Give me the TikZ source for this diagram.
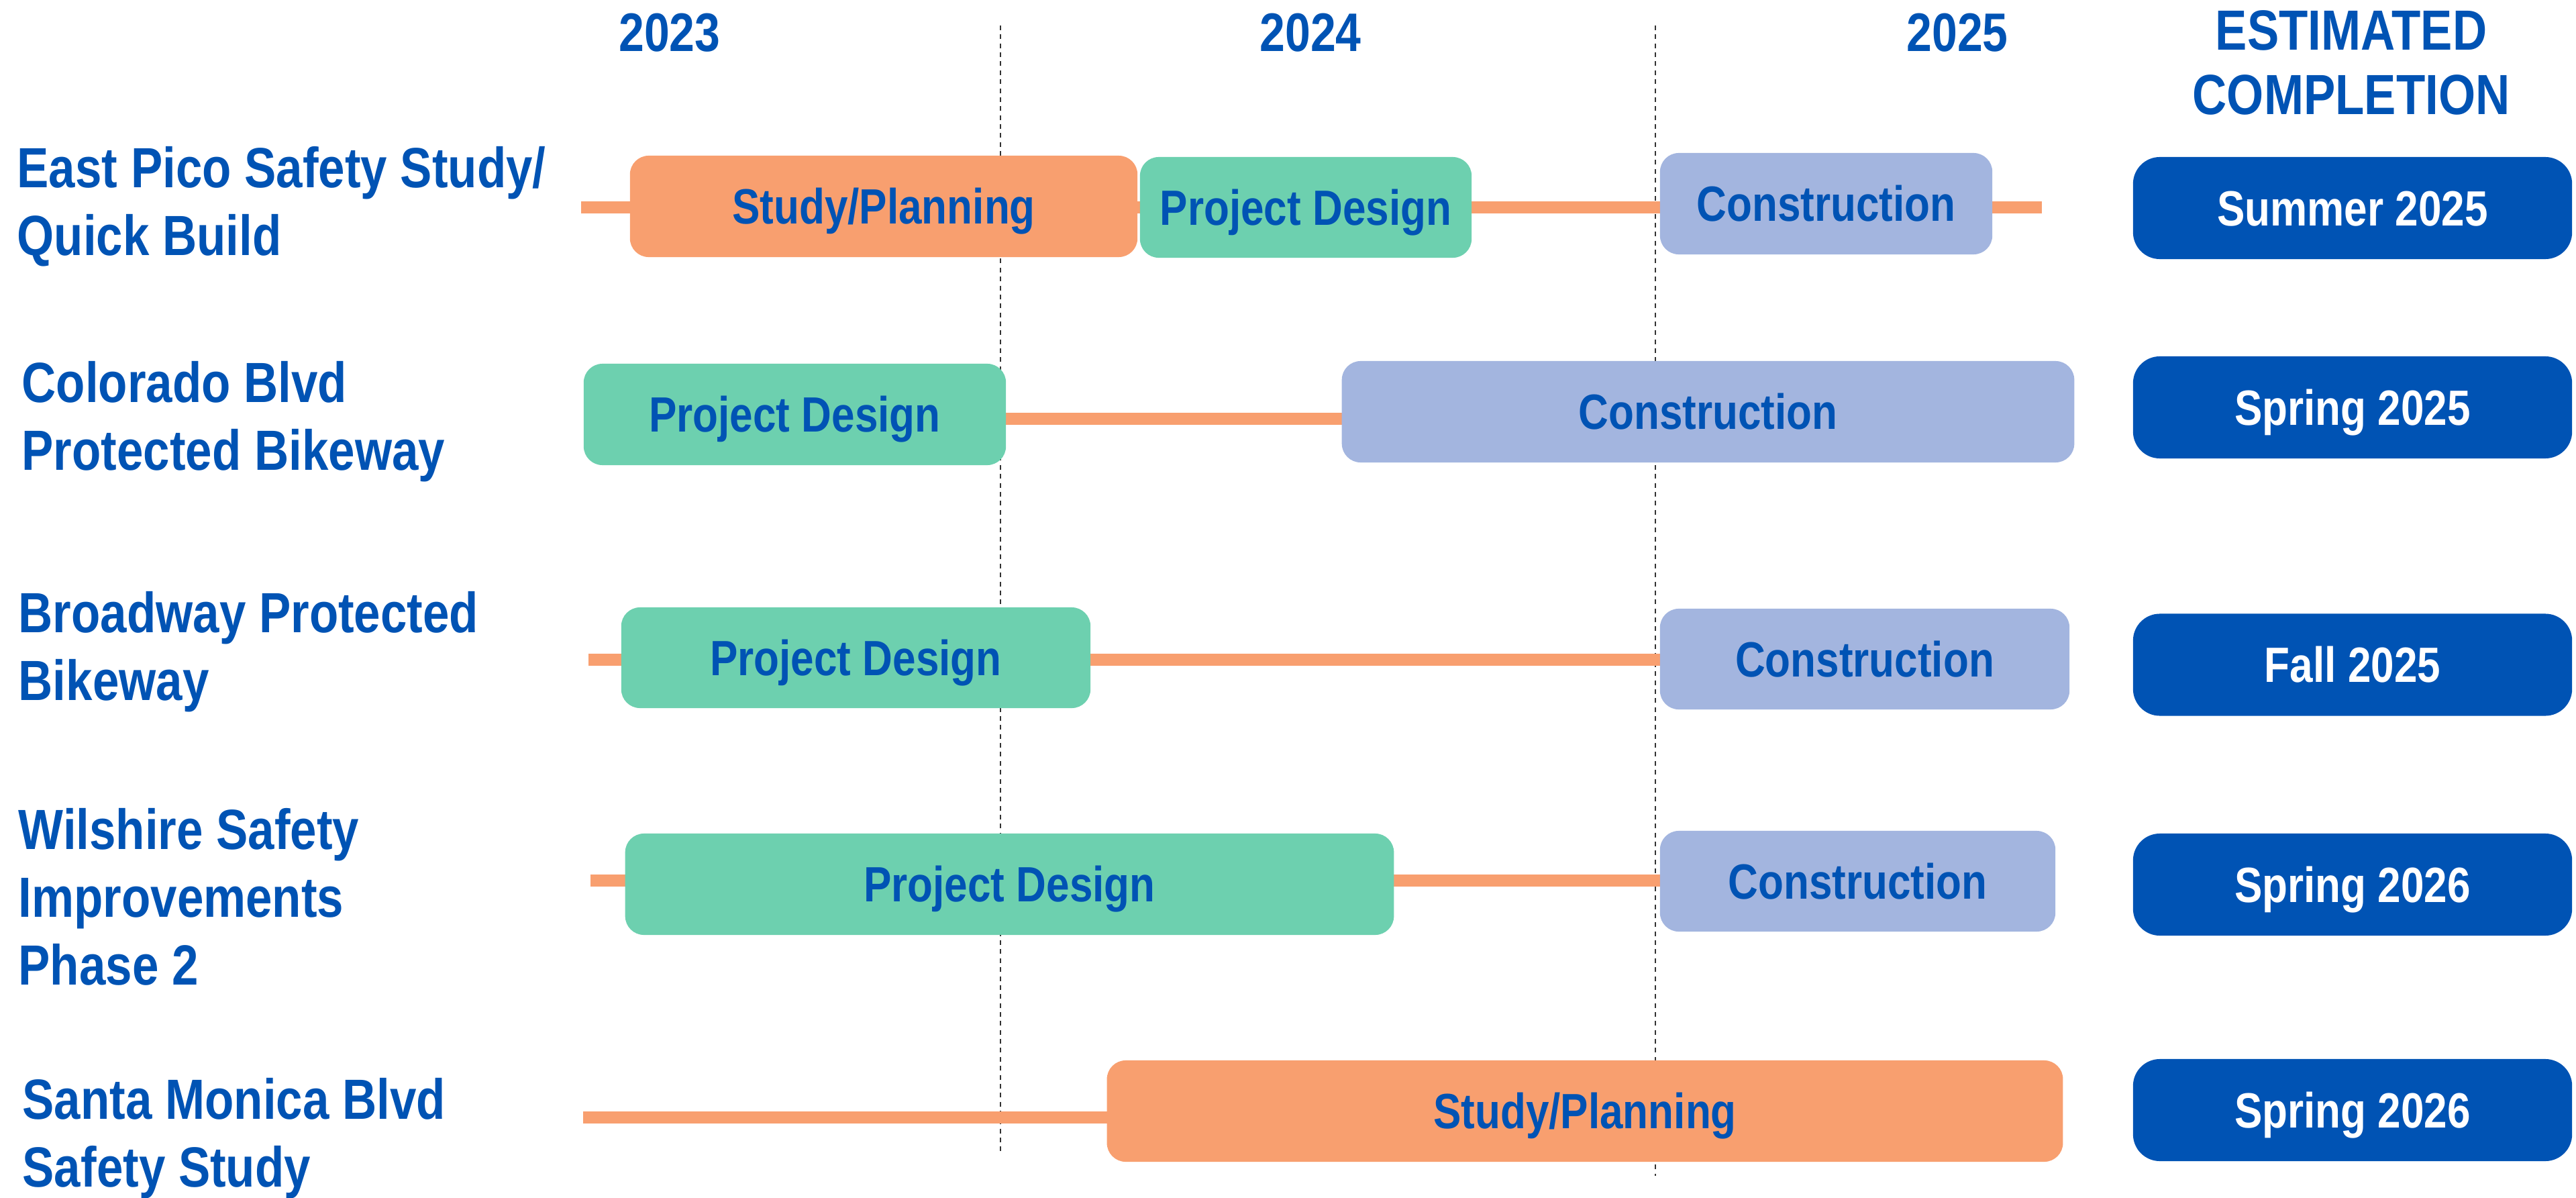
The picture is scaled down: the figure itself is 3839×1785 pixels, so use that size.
\documentclass[tikz,border=0pt]{standalone}
\usepackage{fontspec}
\setmainfont{Liberation Sans}[FakeStretch=0.84]
\usetikzlibrary{backgrounds}

\definecolor{laorange}{HTML}{F89F6F}
\definecolor{lagreen}{HTML}{6DD0AF}
\definecolor{lablue}{HTML}{A3B5DF}
\definecolor{ladark}{HTML}{0053B4}

\tikzset{
  phasebox/.style={rounded corners=0.28cm, inner sep=0pt, text=ladark,
    font=\fontsize{21}{25}\selectfont\bfseries, text height=15pt, text depth=0pt},
  studybox/.style={phasebox, fill=laorange},
  designbox/.style={phasebox, fill=lagreen},
  buildbox/.style={phasebox, fill=lablue},
  donebox/.style={phasebox, fill=ladark, text=white, rounded corners=0.4cm,
    minimum width=6.54cm, minimum height=1.52cm},
  track/.style={draw=laorange, line width=0.18cm},
  yearline/.style={draw=black!80, line width=0.6pt, dash pattern=on 2pt off 1.8pt},
  projlabel/.style={anchor=base west, align=left, inner sep=0pt, text=ladark,
    font=\fontsize{24}{28.7}\selectfont\bfseries},
  yearlabel/.style={anchor=base, align=center, inner sep=0pt, text=ladark,
    font=\fontsize{23}{27.3}\selectfont\bfseries}
}

\begin{document}
\begin{tikzpicture}[x=0.01cm, y=-0.01cm]
   \useasboundingbox (0,0) rectangle (3839,1785);
   % header
   \node[yearlabel] (y23) at (998,77) {2023};
   \node[yearlabel] (y24) at (1953,77) {2024};
   \node[yearlabel] (y25) at (2917,77) {2025};
   \node[yearlabel, font=\fontsize{24}{27.3}\selectfont\bfseries] (est) at (3504,171) {ESTIMATED\\COMPLETION};
   % project names (base = last line)
   \node[projlabel] (pico) at (25,380) {East Pico Safety Study/\\Quick Build};
   \node[projlabel] (colo) at (32,700) {Colorado Blvd\\Protected Bikeway};
   \node[projlabel] (bway) at (27,1043) {Broadway Protected\\Bikeway};
   \node[projlabel] (wshr) at (27,1467) {Wilshire Safety\\Improvements\\Phase 2};
   \node[projlabel] (smon) at (33,1768) {Santa Monica Blvd\\Safety Study};
   % East Pico
   \node[studybox, minimum width=7.56cm, minimum height=1.51cm] (picostudy) at (1317,307.5) {Study/Planning};
   \node[designbox, minimum width=4.94cm, minimum height=1.50cm] (picodesign) at (1946,309) {Project Design};
   \node[buildbox, minimum width=4.95cm, minimum height=1.51cm] (picobuild) at (2721.5,303.5) {Construction};
   \node[donebox] (picodone) at (3506,310) {Summer 2025};
   % Colorado
   \node[designbox, minimum width=6.29cm, minimum height=1.51cm] (colodesign) at (1184.5,617.5) {Project Design};
   \node[buildbox, minimum width=10.91cm, minimum height=1.51cm] (colobuild) at (2545.5,613.5) {Construction};
   \node[donebox] (colodone) at (3506,607) {Spring 2025};
   % Broadway
   \node[designbox, minimum width=6.99cm, minimum height=1.50cm] (bwaydesign) at (1275.5,980) {Project Design};
   \node[buildbox, minimum width=6.10cm, minimum height=1.50cm] (bwaybuild) at (2779,982) {Construction};
   \node[donebox] (bwaydone) at (3506,990.5) {Fall 2025};
   % Wilshire
   \node[designbox, minimum width=11.45cm, minimum height=1.51cm] (wshrdesign) at (1504.5,1317.5) {Project Design};
   \node[buildbox, minimum width=5.89cm, minimum height=1.50cm] (wshrbuild) at (2768.5,1313) {Construction};
   \node[donebox] (wshrdone) at (3506,1318) {Spring 2026};
   % Santa Monica
   \node[studybox, minimum width=14.24cm, minimum height=1.51cm] (smonstudy) at (2362,1655.5) {Study/Planning};
   \node[donebox] (smondone) at (3506,1654) {Spring 2026};
   % year dividers and tracks
   \coordinate (d1a) at (1491,38);   \coordinate (d1b) at (1491,1719);
   \coordinate (d2a) at (2467,38);   \coordinate (d2b) at (2467,1752);
   \coordinate (picoa) at (866,309);  \coordinate (picob) at (3043,309);
   \coordinate (coloa) at (1400,624); \coordinate (colob) at (2100,624);
   \coordinate (bwaya) at (877,983);  \coordinate (bwayb) at (2480,983);
   \coordinate (wshra) at (880,1312); \coordinate (wshrb) at (2480,1312);
   \coordinate (smona) at (869,1665); \coordinate (smonb) at (1700,1665);
   \begin{scope}[on background layer]
     \path[yearline] (d1a) edge (d1b) (d2a) edge (d2b);
     \path[track] (picoa) edge (picob);
     \path[track] (coloa) edge (colob);
     \path[track] (bwaya) edge (bwayb);
     \path[track] (wshra) edge (wshrb);
     \path[track] (smona) edge (smonb);
   \end{scope}
\end{tikzpicture}
\end{document}
